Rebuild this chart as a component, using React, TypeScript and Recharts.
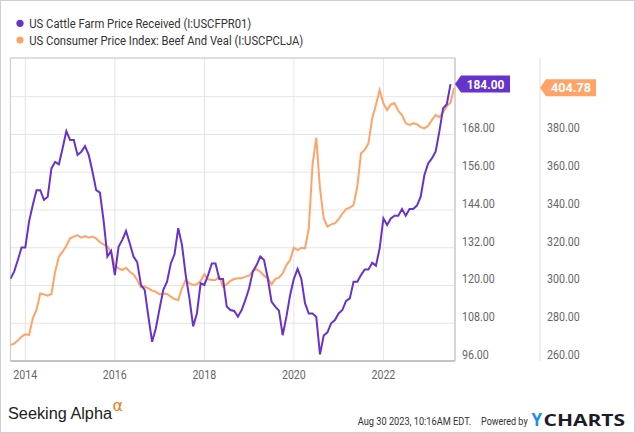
import React from 'react';
import { ComposedChart, Line, XAxis, YAxis, CartesianGrid, ReferenceArea, ReferenceDot } from 'recharts';

// Monthly observations, Sep 2013 .. Aug 2023 (YYYY-MM)
const months: string[] = [
  '2013-09', '2013-10', '2013-11', '2013-12',
  '2014-01', '2014-02', '2014-03', '2014-04', '2014-05', '2014-06', '2014-07', '2014-08', '2014-09', '2014-10', '2014-11', '2014-12',
  '2015-01', '2015-02', '2015-03', '2015-04', '2015-05', '2015-06', '2015-07', '2015-08', '2015-09', '2015-10', '2015-11', '2015-12',
  '2016-01', '2016-02', '2016-03', '2016-04', '2016-05', '2016-06', '2016-07', '2016-08', '2016-09', '2016-10', '2016-11', '2016-12',
  '2017-01', '2017-02', '2017-03', '2017-04', '2017-05', '2017-06', '2017-07', '2017-08', '2017-09', '2017-10', '2017-11', '2017-12',
  '2018-01', '2018-02', '2018-03', '2018-04', '2018-05', '2018-06', '2018-07', '2018-08', '2018-09', '2018-10', '2018-11', '2018-12',
  '2019-01', '2019-02', '2019-03', '2019-04', '2019-05', '2019-06', '2019-07', '2019-08', '2019-09', '2019-10', '2019-11', '2019-12',
  '2020-01', '2020-02', '2020-03', '2020-04', '2020-05', '2020-06', '2020-07', '2020-08', '2020-09', '2020-10', '2020-11', '2020-12',
  '2021-01', '2021-02', '2021-03', '2021-04', '2021-05', '2021-06', '2021-07', '2021-08', '2021-09', '2021-10', '2021-11', '2021-12',
  '2022-01', '2022-02', '2022-03', '2022-04', '2022-05', '2022-06', '2022-07', '2022-08', '2022-09', '2022-10', '2022-11', '2022-12',
  '2023-01', '2023-02', '2023-03', '2023-04', '2023-05', '2023-06', '2023-07', '2023-08',
];

// US Cattle Farm Price Received (I:USCFPR01)
const cattlePrice: number[] = [
  122.1, 124.4, 128.1, 132.1,
  132.1, 140.3, 145.6, 150.3, 150.3, 147.2, 148.2, 157.2, 159.3, 158.5, 163.6, 169.1,
  166.2, 166.2, 161.5, 162.5, 164.3, 161.5, 156.2, 150.3, 149.5, 140.5, 129.2, 131.0,
  123.3, 132.3, 134.5, 137.3, 133.4, 129.2, 127.4, 120.2, 118.6, 110.1, 102.1, 106.4,
  112.7, 118.6, 121.2, 127.0, 129.9, 138.2, 132.9, 123.3, 115.9, 107.0, 111.1, 120.7,
  120.2, 123.3, 127.0, 127.0, 122.1, 122.1, 113.3, 112.2, 111.9, 110.1, 112.2, 115.4,
  119.1, 124.4, 126.5, 129.2, 128.1, 122.3, 114.9, 113.3, 112.0, 104.2, 110.1, 117.0,
  122.1, 125.3, 122.1, 114.3, 111.1, 111.1, 110.1, 98.1, 104.1, 105.1, 108.0, 109.0,
  111.1, 112.2, 115.1, 115.9, 121.2, 121.2, 123.3, 125.1, 125.1, 127.2, 126.3, 131.8,
  141.3, 139.2, 141.3, 142.2, 142.2, 144.3, 142.2, 144.3, 144.3, 145.4, 148.2, 155.1,
  158.8, 160.4, 162.5, 168.9, 176.3, 177.6, 184.0,
];

// US Consumer Price Index: Beef And Veal (I:USCPCLJA)
const beefCpi: number[] = [
  268.5, 269.2, 270.8, 272.9,
  274.1, 273.8, 282.6, 287.0, 295.8, 295.3, 294.6, 295.5, 307.3, 315.3, 317.9, 321.1,
  325.0, 325.9, 326.7, 325.3, 326.2, 325.3, 325.9, 325.0, 322.9, 321.8, 320.6, 317.6,
  310.5, 309.1, 308.2, 309.4, 307.3, 305.9, 302.9, 299.0, 299.4, 298.5, 297.3, 296.7,
  295.3, 295.8, 295.5, 294.1, 292.8, 292.3, 298.5, 302.9, 301.1, 300.3, 300.6, 302.4,
  305.9, 303.3, 302.9, 302.9, 304.7, 299.4, 300.6, 302.4, 303.4, 303.8, 303.8, 304.7,
  305.2, 307.7, 308.7, 307.3, 305.2, 303.8, 300.6, 303.4, 304.1, 306.4, 310.8, 313.5,
  320.0, 318.8, 320.0, 319.7, 330.3, 363.8, 378.3, 351.5, 335.6, 331.2, 332.4, 332.9,
  335.2, 338.0, 340.5, 341.2, 342.6, 352.3, 370.0, 371.8, 375.3, 388.5, 395.6, 403.5,
  396.5, 392.9, 395.9, 396.5, 392.4, 390.3, 385.9, 385.0, 385.9, 385.4, 383.9, 383.2,
  384.6, 387.6, 390.3, 389.2, 391.7, 395.1, 397.0, 404.78,
];

const yearTicks: number[] = [2014, 2016, 2018, 2020, 2022];
const cattleTicks: number[] = [96, 108, 120, 132, 144, 156, 168, 180];
const cpiTicks: number[] = [260, 280, 300, 320, 340, 360, 380, 400];

const legendNames: string[] = [
  'US Cattle Farm Price Received (I:USCFPR01)',
  'US Consumer Price Index: Beef And Veal (I:USCPCLJA)',
];

const W = 635;
const H = 433;
const PURPLE = '#6633cc';
const ORANGE = '#ffa366';
const X_MIN = -4;
const X_MAX = 115.2;
const CATTLE_DOMAIN: [number, number] = [96, 192.3];
const CPI_DOMAIN: [number, number] = [260, 420.5];

const monthIndex = (label: string) => {
  const [y, m] = label.split('-').map(Number);
  return (y - 2014) * 12 + (m - 1);
};

const data = months.map((label, i) => ({
  label,
  m: monthIndex(label),
  cattle: i < cattlePrice.length ? cattlePrice[i] : null,
  cpi: beefCpi[i],
}));

const lastCattle = cattlePrice[cattlePrice.length - 1];
const lastCpi = beefCpi[beefCpi.length - 1];

const FONT = 'Roboto, "Noto Sans", sans-serif';

// hidden: top label of each axis sits under the last-value tag in the reference
const makeValueTick = (hidden: number) => (props: any) => {
  const { x, y, payload } = props;
  if (payload.value === hidden) return <g />;
  return (
    <g transform={`translate(${x + 7},${y - 6.6}) scale(0.82,1)`}>
      <text x={0} y={0} dominantBaseline="central" fontSize={13} fill="#666" fontFamily={FONT}>
        {Number(payload.value).toFixed(2)}
      </text>
    </g>
  );
};

const YearTick = (props: any) => {
  const { x, y, payload } = props;
  return (
    <g transform={`translate(${x},${y + 13.5}) scale(0.82,1)`}>
      <text x={0} y={0} textAnchor="middle" dominantBaseline="central" fontSize={13} fill="#666" fontFamily={FONT}>
        {2014 + payload.value / 12}
      </text>
    </g>
  );
};

const makeTag = (color: string, text: string, dx: number, bodyW: number, textW: number) => (p: any) => {
  const cx = p.cx + dx;
  const cy = p.cy;
  const h = 8.5;
  const a = 6;
  const pts = `${cx},${cy} ${cx + a},${cy - h} ${cx + a + bodyW},${cy - h} ${cx + a + bodyW},${cy + h} ${cx + a},${cy + h}`;
  return (
    <g>
      <polygon points={pts} fill={color} />
      <text
        x={cx + a + bodyW / 2}
        y={cy + 0.5}
        textAnchor="middle"
        dominantBaseline="central"
        fill="#fff"
        fontSize={12}
        fontWeight={700}
        fontFamily={FONT}
        textLength={textW}
        lengthAdjust="spacingAndGlyphs"
      >
        {text}
      </text>
    </g>
  );
};

export default function App() {
  return (
    <div style={{ position: 'absolute', left: 0, top: 0, width: W, height: H, background: '#fff', overflow: 'hidden' }}>
      <ComposedChart
        width={W}
        height={H}
        data={data}
        margin={{ top: 58, left: 10.4, right: 0, bottom: 42 }}
      >
        <CartesianGrid yAxisId="cattle" stroke="#e4e4e4" strokeWidth={1} />
        <XAxis
          dataKey="m"
          type="number"
          domain={[X_MIN, X_MAX]}
          allowDataOverflow
          ticks={yearTicks.map((y) => (y - 2014) * 12)}
          tick={<YearTick />}
          tickLine={false}
          tickSize={0}
          tickMargin={0}
          height={30}
          axisLine={{ stroke: '#c4c4c4', strokeWidth: 2 }}
        />
        <YAxis
          yAxisId="cattle"
          orientation="right"
          width={85}
          domain={CATTLE_DOMAIN}
          allowDataOverflow
          ticks={cattleTicks}
          tick={makeValueTick(180)}
          tickLine={false}
          tickSize={0}
          tickMargin={0}
          axisLine={{ stroke: '#cccccc' }}
        />
        <YAxis
          yAxisId="cpi"
          orientation="right"
          width={95}
          domain={CPI_DOMAIN}
          allowDataOverflow
          ticks={cpiTicks}
          tick={makeValueTick(400)}
          tickLine={false}
          tickSize={0}
          tickMargin={0}
          axisLine={{ stroke: '#dddddd' }}
        />
        <ReferenceArea
          yAxisId="cattle"
          x1={X_MIN}
          x2={X_MAX}
          y1={CATTLE_DOMAIN[0]}
          y2={CATTLE_DOMAIN[1]}
          fill="none"
          stroke="#cccccc"
          strokeWidth={1}
          ifOverflow="visible"
        />
        <Line
          yAxisId="cpi"
          dataKey="cpi"
          type="linear"
          stroke={ORANGE}
          strokeWidth={2}
          dot={false}
          activeDot={false}
          isAnimationActive={false}
        />
        <Line
          yAxisId="cattle"
          dataKey="cattle"
          type="linear"
          stroke={PURPLE}
          strokeWidth={2}
          dot={false}
          activeDot={false}
          isAnimationActive={false}
        />
        <ReferenceDot
          yAxisId="cattle"
          x={X_MAX}
          y={lastCattle}
          r={0}
          ifOverflow="visible"
          shape={makeTag(PURPLE, lastCattle.toFixed(2), 0, 49, 37.5)}
        />
        <ReferenceDot
          yAxisId="cpi"
          x={X_MAX}
          y={lastCpi}
          r={0}
          ifOverflow="visible"
          shape={makeTag(ORANGE, lastCpi.toFixed(2), 85, 50, 40)}
        />
      </ComposedChart>
      <svg
        width={W}
        height={H}
        style={{ position: 'absolute', left: 0, top: 0, pointerEvents: 'none' }}
      >
        <rect x={0.5} y={0.5} width={W - 1} height={H - 1} fill="none" stroke="#d0d0d0" />
        <circle cx={20} cy={23.3} r={3.6} fill={PURPLE} />
        <circle cx={20} cy={40} r={3.6} fill={ORANGE} />
        <text x={29.3} y={23.5} dominantBaseline="central" fontSize={12.5} fill="#333" fontFamily={FONT}
          textLength={222} lengthAdjust="spacingAndGlyphs">{legendNames[0]}</text>
        <text x={29.3} y={40.2} dominantBaseline="central" fontSize={12.5} fill="#333" fontFamily={FONT}
          textLength={274} lengthAdjust="spacingAndGlyphs">{legendNames[1]}</text>
        <text x={8} y={419.3} fontSize={16} fill="#222" fontFamily='"Liberation Sans", Arial, sans-serif'
          textLength={104} lengthAdjust="spacingAndGlyphs">Seeking Alpha</text>
        <text x={112.5} y={410.5} fontSize={16} fill="#f47a20" fontFamily='"DejaVu Sans", sans-serif'>α</text>
        <g transform="translate(357.7,424.5) scale(0.84,1)">
          <text x={0} y={0} fontSize={11} fill="#333" fontFamily={FONT}>Aug 30 2023, 10:16AM EDT.</text>
        </g>
        <g transform="translate(481,424.5) scale(0.82,1)">
          <text x={0} y={0} fontSize={11} fill="#333" fontFamily={FONT}>Powered by</text>
        </g>
        <text x={531.5} y={426} fontSize={17} fontWeight={700} fill="#1a8fe8" fontFamily='"Open Sans", sans-serif'>Y</text>
        <text x={543.5} y={426} fontSize={16.5} fontWeight={700} fill="#1c1c28" fontFamily='"Open Sans", sans-serif'
          textLength={81.5} lengthAdjust="spacingAndGlyphs">CHARTS</text>
      </svg>
    </div>
  );
}
